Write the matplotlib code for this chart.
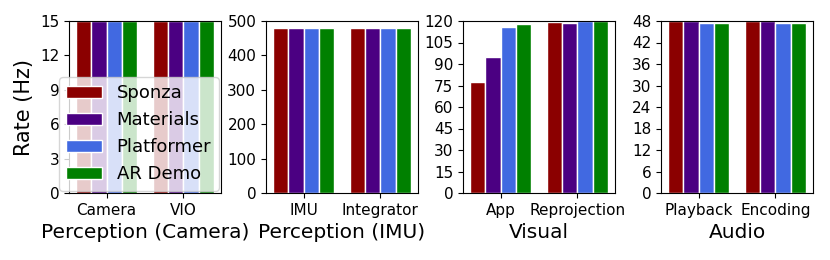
import matplotlib
matplotlib.use("Agg")
import matplotlib.pyplot as plt
import numpy as np

series = ["Sponza", "Materials", "Platformer", "AR Demo"]
colors = ["darkred", "indigo", "royalblue", "green"]

groups = [
    ("Perception (Camera)", ["Camera", "VIO"], 15, 3),
    ("Perception (IMU)", ["IMU", "Integrator"], 500, 100),
    ("Visual", ["App", "Reprojection"], 120, 15),
    ("Audio", ["Playback", "Encoding"], 48, 6),
]

# values[group][series] -> [task1, task2]
cam_vals = [[15, 15], [15, 15], [15, 15], [15, 15]]
imu_vals = [[480, 480], [480, 479], [480, 479], [480, 480]]
vis_vals = [[77.5, 119.5], [95, 118.5], [115.8, 120], [118, 120]]
aud_vals = [[48, 48], [48, 48], [47.5, 47.5], [47.5, 47.5]]
all_vals = [cam_vals, imu_vals, vis_vals, aud_vals]

fig = plt.figure(figsize=(8.3, 2.6), dpi=100)
lefts = [69, 266, 463, 661]
W, H = 830, 260
width = 0.2
offsets = [-0.3, -0.1, 0.1, 0.3]

for gi, ((xlabel, tasks, ymax, ystep), vals) in enumerate(zip(groups, all_vals)):
    ax = fig.add_axes([lefts[gi] / W, 1 - 193 / H, 152 / W, 172 / H])
    x = np.arange(len(tasks))
    for si, name in enumerate(series):
        ax.bar(x + offsets[si], vals[si], width, color=colors[si],
               edgecolor="white", linewidth=1, label=name)
    ax.set_ylim(0, ymax)
    ax.set_yticks(np.arange(0, ymax + 1e-9, ystep))
    ax.set_xticks(x)
    ax.set_xticklabels(tasks, fontsize=11)
    ax.tick_params(axis="y", labelsize=11)
    ax.set_xlabel(xlabel, fontsize=14.5, labelpad=4)
    if gi == 0:
        ax.set_ylabel("Rate (Hz)", fontsize=15)
        ax.legend(loc="upper left", bbox_to_anchor=(-0.066, 0.674),
                  borderaxespad=0, fontsize=13, handlelength=2.0)

fig.savefig("out.png", dpi=100)
